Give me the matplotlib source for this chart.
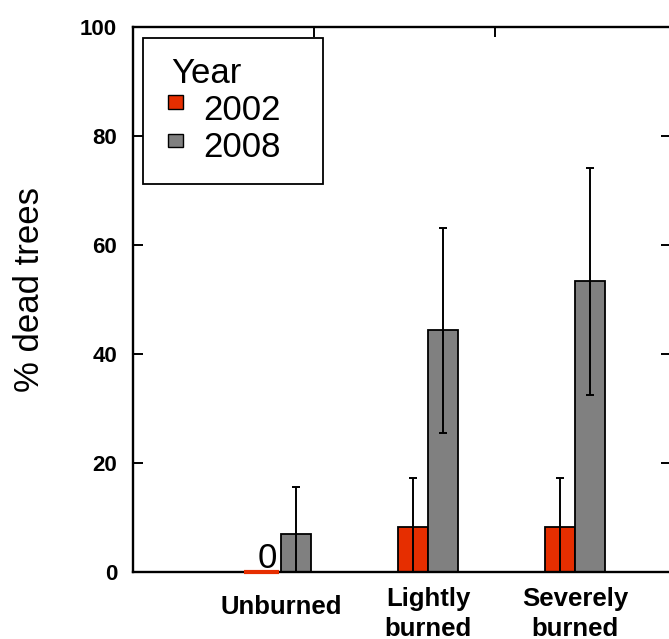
import numpy as np
import matplotlib.pyplot as plt
from matplotlib.patches import Rectangle

plt.rcParams['font.family'] = ['Liberation Sans', 'DejaVu Sans']

# data
categories = ['Unburned', 'Lightly\nburned', 'Severely\nburned']
years = ['2002', '2008']
pct_2002 = [0.0, 8.2, 8.2]
err_2002 = [0.0, 9.0, 9.0]
pct_2008 = [6.8, 44.3, 53.3]
err_2008 = [8.8, 18.8, 20.8]
yticks = [0, 20, 40, 60, 80, 100]

red = '#e62e00'
grey = '#808080'

fig = plt.figure(figsize=(6.69, 6.39), dpi=100)
W, H = 669.0, 639.0
ax = fig.add_axes([132.5/W, (H-571.5)/H, (671-132.5)/W, (571.5-27)/H])

x = np.arange(len(categories))
bw = 0.205
off = 0.102

ax.bar(x-off, pct_2002, bw, color=red, edgecolor='black', linewidth=1.3)
# the zero bar shows only as a red line sitting on the axis
ax.bar(x[0]-off-0.03, pct_2002[0], bw+0.03, color=red, edgecolor=red,
       linewidth=3, clip_on=False, zorder=3)
ax.bar(x+off, pct_2008, bw, color=grey, edgecolor='black', linewidth=1.3)

m = np.array(err_2002) > 0
ax.errorbar((x-off)[m], np.array(pct_2002)[m], yerr=np.array(err_2002)[m], fmt='none',
            ecolor='black', elinewidth=1.4, capsize=3, capthick=1.4)
ax.errorbar(x+off, pct_2008, yerr=err_2008, fmt='none',
            ecolor='black', elinewidth=1.4, capsize=3, capthick=1.4)

ax.text(x[0]-off+0.01, 0.6, '0', ha='center', va='baseline', fontsize=25)

ax.set_xlim(-1.01, 2.653)
ax.set_ylim(0, 100)
ax.set_yticks(yticks)
ax.set_yticklabels([str(t) for t in yticks], fontsize=16, fontweight='bold')
ax.set_xticks([0.2245, 1.456])
ax.tick_params(axis='x', bottom=False, top=True, labelbottom=False,
               direction='in', length=7, width=1.4)
ax.tick_params(axis='y', left=True, right=True, direction='in',
               length=7, width=1.4, pad=11)
for s in ax.spines.values():
    s.set_linewidth(1.7)

tr = ax.get_xaxis_transform()
ax.text(x[0], -0.066, categories[0], transform=tr, ha='center', va='center',
        fontsize=18.5, fontweight='bold')
for i in (1, 2):
    ax.text(x[i], -0.0775, categories[i], transform=tr, ha='center', va='center',
            fontsize=18.5, fontweight='bold', linespacing=1.3)

fig.text(30/W, 1-290/H, '% dead trees', rotation=90, ha='center', va='center',
         fontsize=25)

# legend box
ax.add_patch(Rectangle((0.020, 0.7117), 0.334, 0.2676, transform=ax.transAxes,
                       facecolor='white', edgecolor='black', linewidth=1.3,
                       zorder=5))
ax.text(0.0728, 0.897, 'Year', transform=ax.transAxes, fontsize=25,
        va='baseline', zorder=6)
for col, yb, yr, lab in [(red, 0.8494, 0.829, years[0]), (grey, 0.7787, 0.761, years[1])]:
    ax.add_patch(Rectangle((0.0665, yb), 0.0267, 0.025, transform=ax.transAxes,
                           facecolor=col, edgecolor='black', linewidth=1.0, zorder=6))
    ax.text(0.131, yr, lab, transform=ax.transAxes, fontsize=25,
            va='baseline', zorder=6)

fig.savefig('out.png', dpi=100)
